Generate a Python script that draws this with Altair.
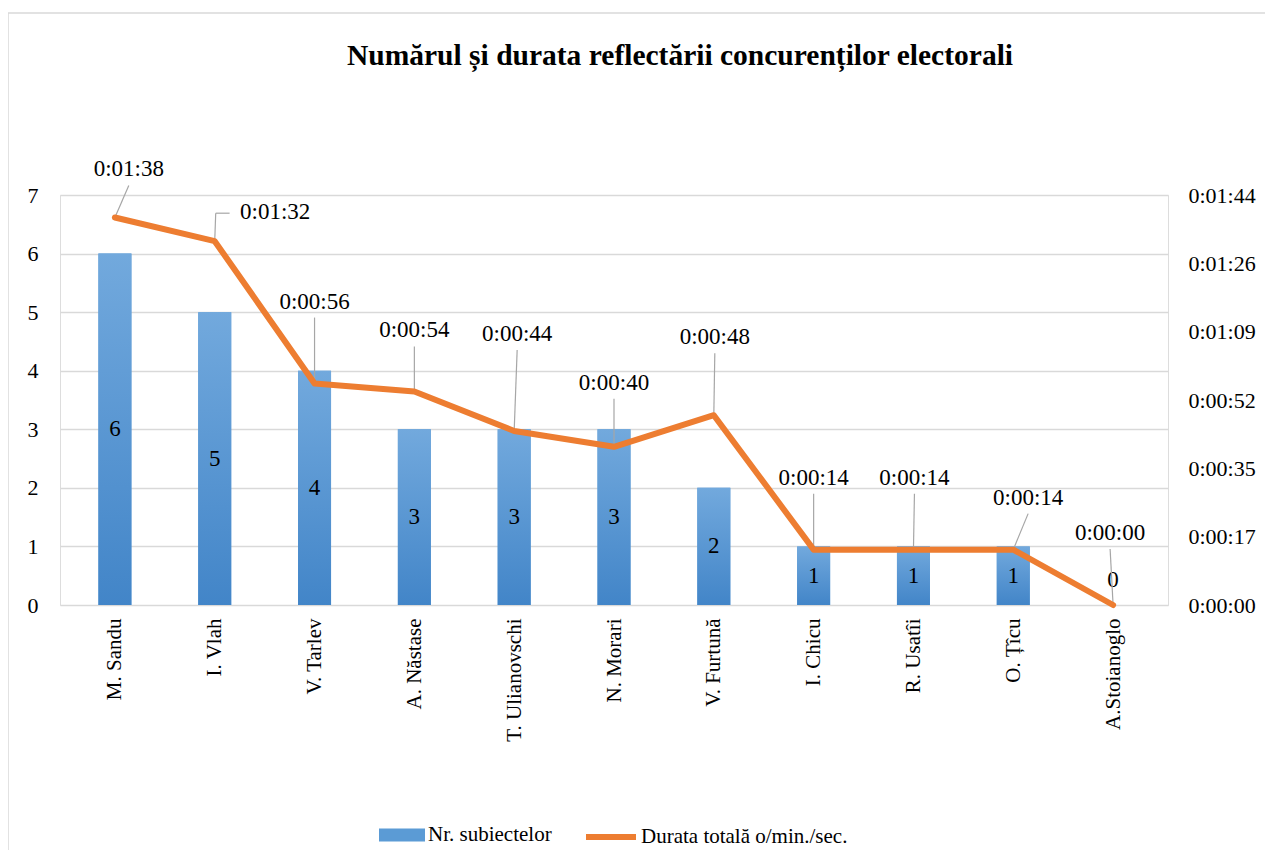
import json
import altair as alt
import pandas as pd

# ---------------- data ----------------
names = ["M. Sandu", "I. Vlah", "V. Tarlev", "A. Năstase", "T. Ulianovschi",
         "N. Morari", "V. Furtună", "I. Chicu", "R. Usatîi", "O. Țîcu", "A.Stoianoglo"]
counts = [6, 5, 4, 3, 3, 3, 2, 1, 1, 1, 0]
seconds = [98, 92, 56, 54, 44, 40, 48, 14, 14, 14, 0]

left_ticks = [0, 1, 2, 3, 4, 5, 6, 7]
right_ticks = [0, 17.28, 34.56, 51.84, 69.12, 86.4, 103.68]

title_text = "Numărul și durata reflectării concurenților electorali"
bar_series = "Nr. subiectelor"
line_series = "Durata totală o/min./sec."

# ---------------- layout / style ----------------
W, H = 1108, 410
SEC_MAX = right_ticks[-1]
FONT = "Liberation Serif"
KX = 11 / W          # index units per pixel
KS = SEC_MAX / H     # seconds per pixel

# data-label placement (pixel offsets of each label from its line point)
label_dx = [14, 61, 0, 0, 3, 0, 1, 0, 1, 15, -3]
label_dy = [-48, -29, -82, -61, -97, -64, -78, -72, -72, -52, -72]


def fmt(s):
    return f"0:{s // 60:02d}:{s % 60:02d}"


df = pd.DataFrame({
    "idx": list(range(len(names))),
    "name": names,
    "count": counts,
    "sec": seconds,
    "lab": [fmt(s) for s in seconds],
})
df["lx"] = [i + dx * KX for i, dx in zip(df["idx"], label_dx)]
df["ly"] = [s - dy * KS for s, dy in zip(seconds, label_dy)]

rows = []
for i, (s, dx, dy) in enumerate(zip(seconds, label_dx, label_dy)):
    if abs(dx) > 40:  # label placed to the side: elbow leader
        yy = s - (dy + 1) * KS
        rows.append({"x1": i + (dx - 46) * KX, "x2": i + 1 * KX, "y1": yy, "y2": yy})
        rows.append({"x1": i + 1 * KX, "x2": i, "y1": yy, "y2": s})
    else:
        rows.append({"x1": i + dx * KX, "x2": i, "y1": s - (dy + 16) * KS, "y2": s})
lead_df = pd.DataFrame(rows)

# ---------------- scales & axes ----------------
xscale = alt.Scale(domain=[-0.5, len(names) - 0.5], nice=False, zero=False)
x_axis = alt.Axis(values=list(range(len(names))),
                  labelExpr=json.dumps(names, ensure_ascii=False) + "[datum.value]",
                  labelAngle=-90, labelAlign="right", labelBaseline="middle",
                  labelPadding=13, labelFont=FONT, labelFontSize=21, labelColor="black",
                  labelOverlap=False, domain=False, ticks=False, grid=False, title=None)

yL = alt.Scale(domain=[0, 7], nice=False, zero=True)
yL_axis = alt.Axis(orient="left", values=left_ticks, grid=True, gridColor="#d9d9d9",
                   gridWidth=1.4, domain=False, ticks=False, labelPadding=22,
                   labelFont=FONT, labelFontSize=22, labelColor="black", title=None)

yR = alt.Scale(domain=[0, SEC_MAX], nice=False, zero=True)
time_expr = ("'0:' + (floor(round(datum.value)/60) < 10 ? '0' : '') + floor(round(datum.value)/60)"
             " + ':' + (round(datum.value) % 60 < 10 ? '0' : '') + (round(datum.value) % 60)")
yR_axis = alt.Axis(orient="right", values=right_ticks, labelExpr=time_expr, grid=False,
                   domain=False, ticks=False, labelPadding=20, labelFont=FONT,
                   labelFontSize=22, labelColor="black", title=None)

X = alt.X("idx:Q", scale=xscale, axis=x_axis)

one = pd.DataFrame({"a": [0]})

# ---------------- left (count) group ----------------
frame = alt.Chart(one).mark_rect(
    fill="transparent", stroke="#d9d9d9", strokeWidth=1.5
).encode(x=alt.value(-52), x2=alt.value(1400), y=alt.value(-182), y2=alt.value(1000))

title_mark = alt.Chart(one).mark_text(
    font=FONT, fontSize=29.5, fontWeight="bold", color="black",
    align="center", baseline="middle"
).encode(x=alt.value(620), y=alt.value(-139), text=alt.value(title_text))

bars_solid = alt.Chart(df).transform_calculate(s=f"'{bar_series}'").mark_bar(size=33).encode(
    x=X,
    y=alt.Y("count:Q", scale=yL, axis=yL_axis),
    fill=alt.Fill("s:N", scale=alt.Scale(range=["#5B9BD5"]),
                  legend=alt.Legend(title=None, orient="none", legendX=319, legendY=617,
                                    symbolType="M-1,-0.28H1V0.28H-1Z", symbolSize=2116,
                                    symbolStrokeWidth=0, labelFont=FONT, labelFontSize=21,
                                    labelColor="black", labelOffset=3, labelLimit=400,
                                    padding=0)),
)

grad = alt.Gradient(gradient="linear",
                    stops=[alt.GradientStop(color="#72A9DD", offset=0),
                           alt.GradientStop(color="#4285C8", offset=1)],
                    x1=0, x2=0, y1=0, y2=1)
bars_grad = alt.Chart(df).mark_bar(size=33, color=grad).encode(
    x=X, y=alt.Y("count:Q", scale=yL, axis=yL_axis)
)

bar_text = alt.Chart(df).transform_calculate(
    mid="datum.count > 0 ? datum.count / 2 : 0.43"
).mark_text(font=FONT, fontSize=23, color="black", baseline="middle").encode(
    x=X, y=alt.Y("mid:Q", scale=yL, axis=yL_axis), text="count:Q"
)

left = alt.layer(frame, title_mark, bars_solid, bars_grad, bar_text)

# ---------------- right (duration) group ----------------
leaders = alt.Chart(lead_df).mark_rule(color="#a6a6a6", strokeWidth=1.2).encode(
    x=alt.X("x1:Q", scale=xscale, axis=x_axis), x2="x2:Q",
    y=alt.Y("y1:Q", scale=yR, axis=yR_axis), y2="y2:Q"
)

line = alt.Chart(df).transform_calculate(s2=f"'{line_series}'").mark_line(
    strokeWidth=6, strokeJoin="round", strokeCap="round"
).encode(
    x=X,
    y=alt.Y("sec:Q", scale=yR, axis=yR_axis),
    stroke=alt.Stroke("s2:N", scale=alt.Scale(range=["#ED7D31"]),
                      legend=alt.Legend(title=None, orient="none", legendX=523, legendY=614,
                                        symbolType="stroke", symbolSize=2500,
                                        symbolStrokeWidth=6, labelFont=FONT,
                                        labelFontSize=21, labelColor="black",
                                        labelOffset=2, labelLimit=400, padding=0)),
)

line_labels = alt.Chart(df).mark_text(font=FONT, fontSize=23, color="black",
                                      baseline="middle").encode(
    x=alt.X("lx:Q", scale=xscale, axis=x_axis),
    y=alt.Y("ly:Q", scale=yR, axis=yR_axis),
    text="lab:N",
)

right = alt.layer(leaders, line, line_labels)

chart = alt.layer(left, right).resolve_scale(
    y="independent", fill="independent", stroke="independent"
).properties(
    width=W, height=H,
    autosize=alt.AutoSizeParams(type="none"),
    padding={"left": 52, "top": 187, "right": 97, "bottom": 245},
).configure_view(stroke="transparent").configure(background="white")

chart.save("out.html", embed_options={"renderer": "svg", "actions": False})
